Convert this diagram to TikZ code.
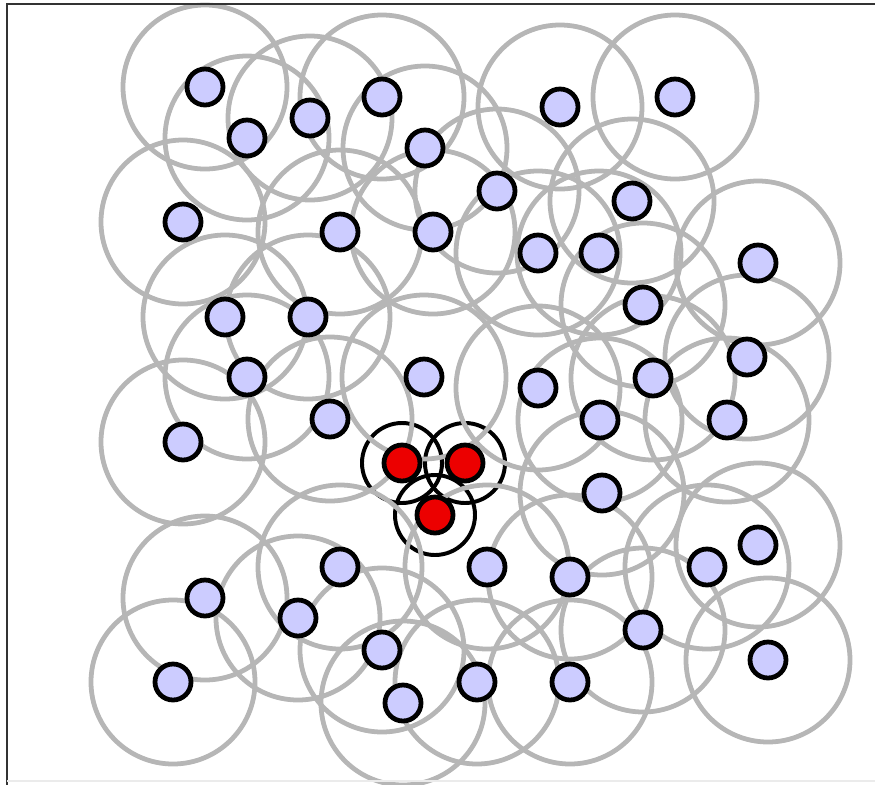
\documentclass[tikz,border=0pt]{standalone}
\usepackage{tikz}
\usepackage{xcolor}
\usetikzlibrary{backgrounds}

\definecolor{sensorblue}{RGB}{204,204,255}
\definecolor{rangegray}{RGB}{182,182,182}
\definecolor{nodered}{RGB}{236,0,0}

\begin{document}
\begin{tikzpicture}[x=0.25mm,y=-0.25mm,
  sensor/.style={circle,draw=black,line width=3.4pt,fill=sensorblue,minimum size=9mm,inner sep=0pt},
  source/.style={sensor,fill=nodered},
  coverage/.style={draw=rangegray,line width=3.4pt},
  shortcoverage/.style={draw=black,line width=2.8pt}]
\useasboundingbox (0,0) rectangle (875,785);
% frame
\draw[black!80,line width=1.2pt] (7,785) -- (7,4) -- (875,4);
\draw[black!8,line width=1pt] (7,781) -- (875,781);
% sensors
\node[sensor] (s1) at (205,87) {};
\node[sensor] (s2) at (247,138) {};
\node[sensor] (s3) at (310,118) {};
\node[sensor] (s4) at (382,97) {};
\node[sensor] (s5) at (560,107) {};
\node[sensor] (s6) at (675,97) {};
\node[sensor] (s7) at (425,148) {};
\node[sensor] (s8) at (497,191) {};
\node[sensor] (s9) at (632,201) {};
\node[sensor] (s10) at (183,222) {};
\node[sensor] (s11) at (340,232) {};
\node[sensor] (s12) at (433,232) {};
\node[sensor] (s13) at (538,253) {};
\node[sensor] (s14) at (599,253) {};
\node[sensor] (s15) at (758,263) {};
\node[sensor] (s16) at (225,317) {};
\node[sensor] (s17) at (308,317) {};
\node[sensor] (s18) at (643,305) {};
\node[sensor] (s19) at (747,357) {};
\node[sensor] (s20) at (247,377) {};
\node[sensor] (s21) at (424,377) {};
\node[sensor] (s22) at (538,388) {};
\node[sensor] (s23) at (653,378) {};
\node[sensor] (s24) at (330,419) {};
\node[sensor] (s25) at (600,420) {};
\node[sensor] (s26) at (727,420) {};
\node[sensor] (s27) at (183,442) {};
\node[sensor] (s28) at (602,493) {};
\node[sensor] (s29) at (340,567) {};
\node[sensor] (s30) at (487,567) {};
\node[sensor] (s31) at (570,577) {};
\node[sensor] (s32) at (707,567) {};
\node[sensor] (s33) at (758,545) {};
\node[sensor] (s34) at (205,598) {};
\node[sensor] (s35) at (298,618) {};
\node[sensor] (s36) at (643,630) {};
\node[sensor] (s37) at (382,650) {};
\node[sensor] (s38) at (768,660) {};
\node[sensor] (s39) at (173,682) {};
\node[sensor] (s40) at (477,682) {};
\node[sensor] (s41) at (570,682) {};
\node[sensor] (s42) at (403,703) {};
% red nodes
\node[source] (r1) at (402,463) {};
\node[source] (r2) at (465,463) {};
\node[source] (r3) at (435,515) {};
% coverage circles behind the nodes
\begin{pgfonlayer}{background}
\foreach \r in {r1,r2,r3}
  \draw[shortcoverage] (\r.center) circle (10mm);
\foreach \s in {1,...,42}
  \draw[coverage] (s\s.center) circle (20.5mm);
\end{pgfonlayer}
\end{tikzpicture}
\end{document}
